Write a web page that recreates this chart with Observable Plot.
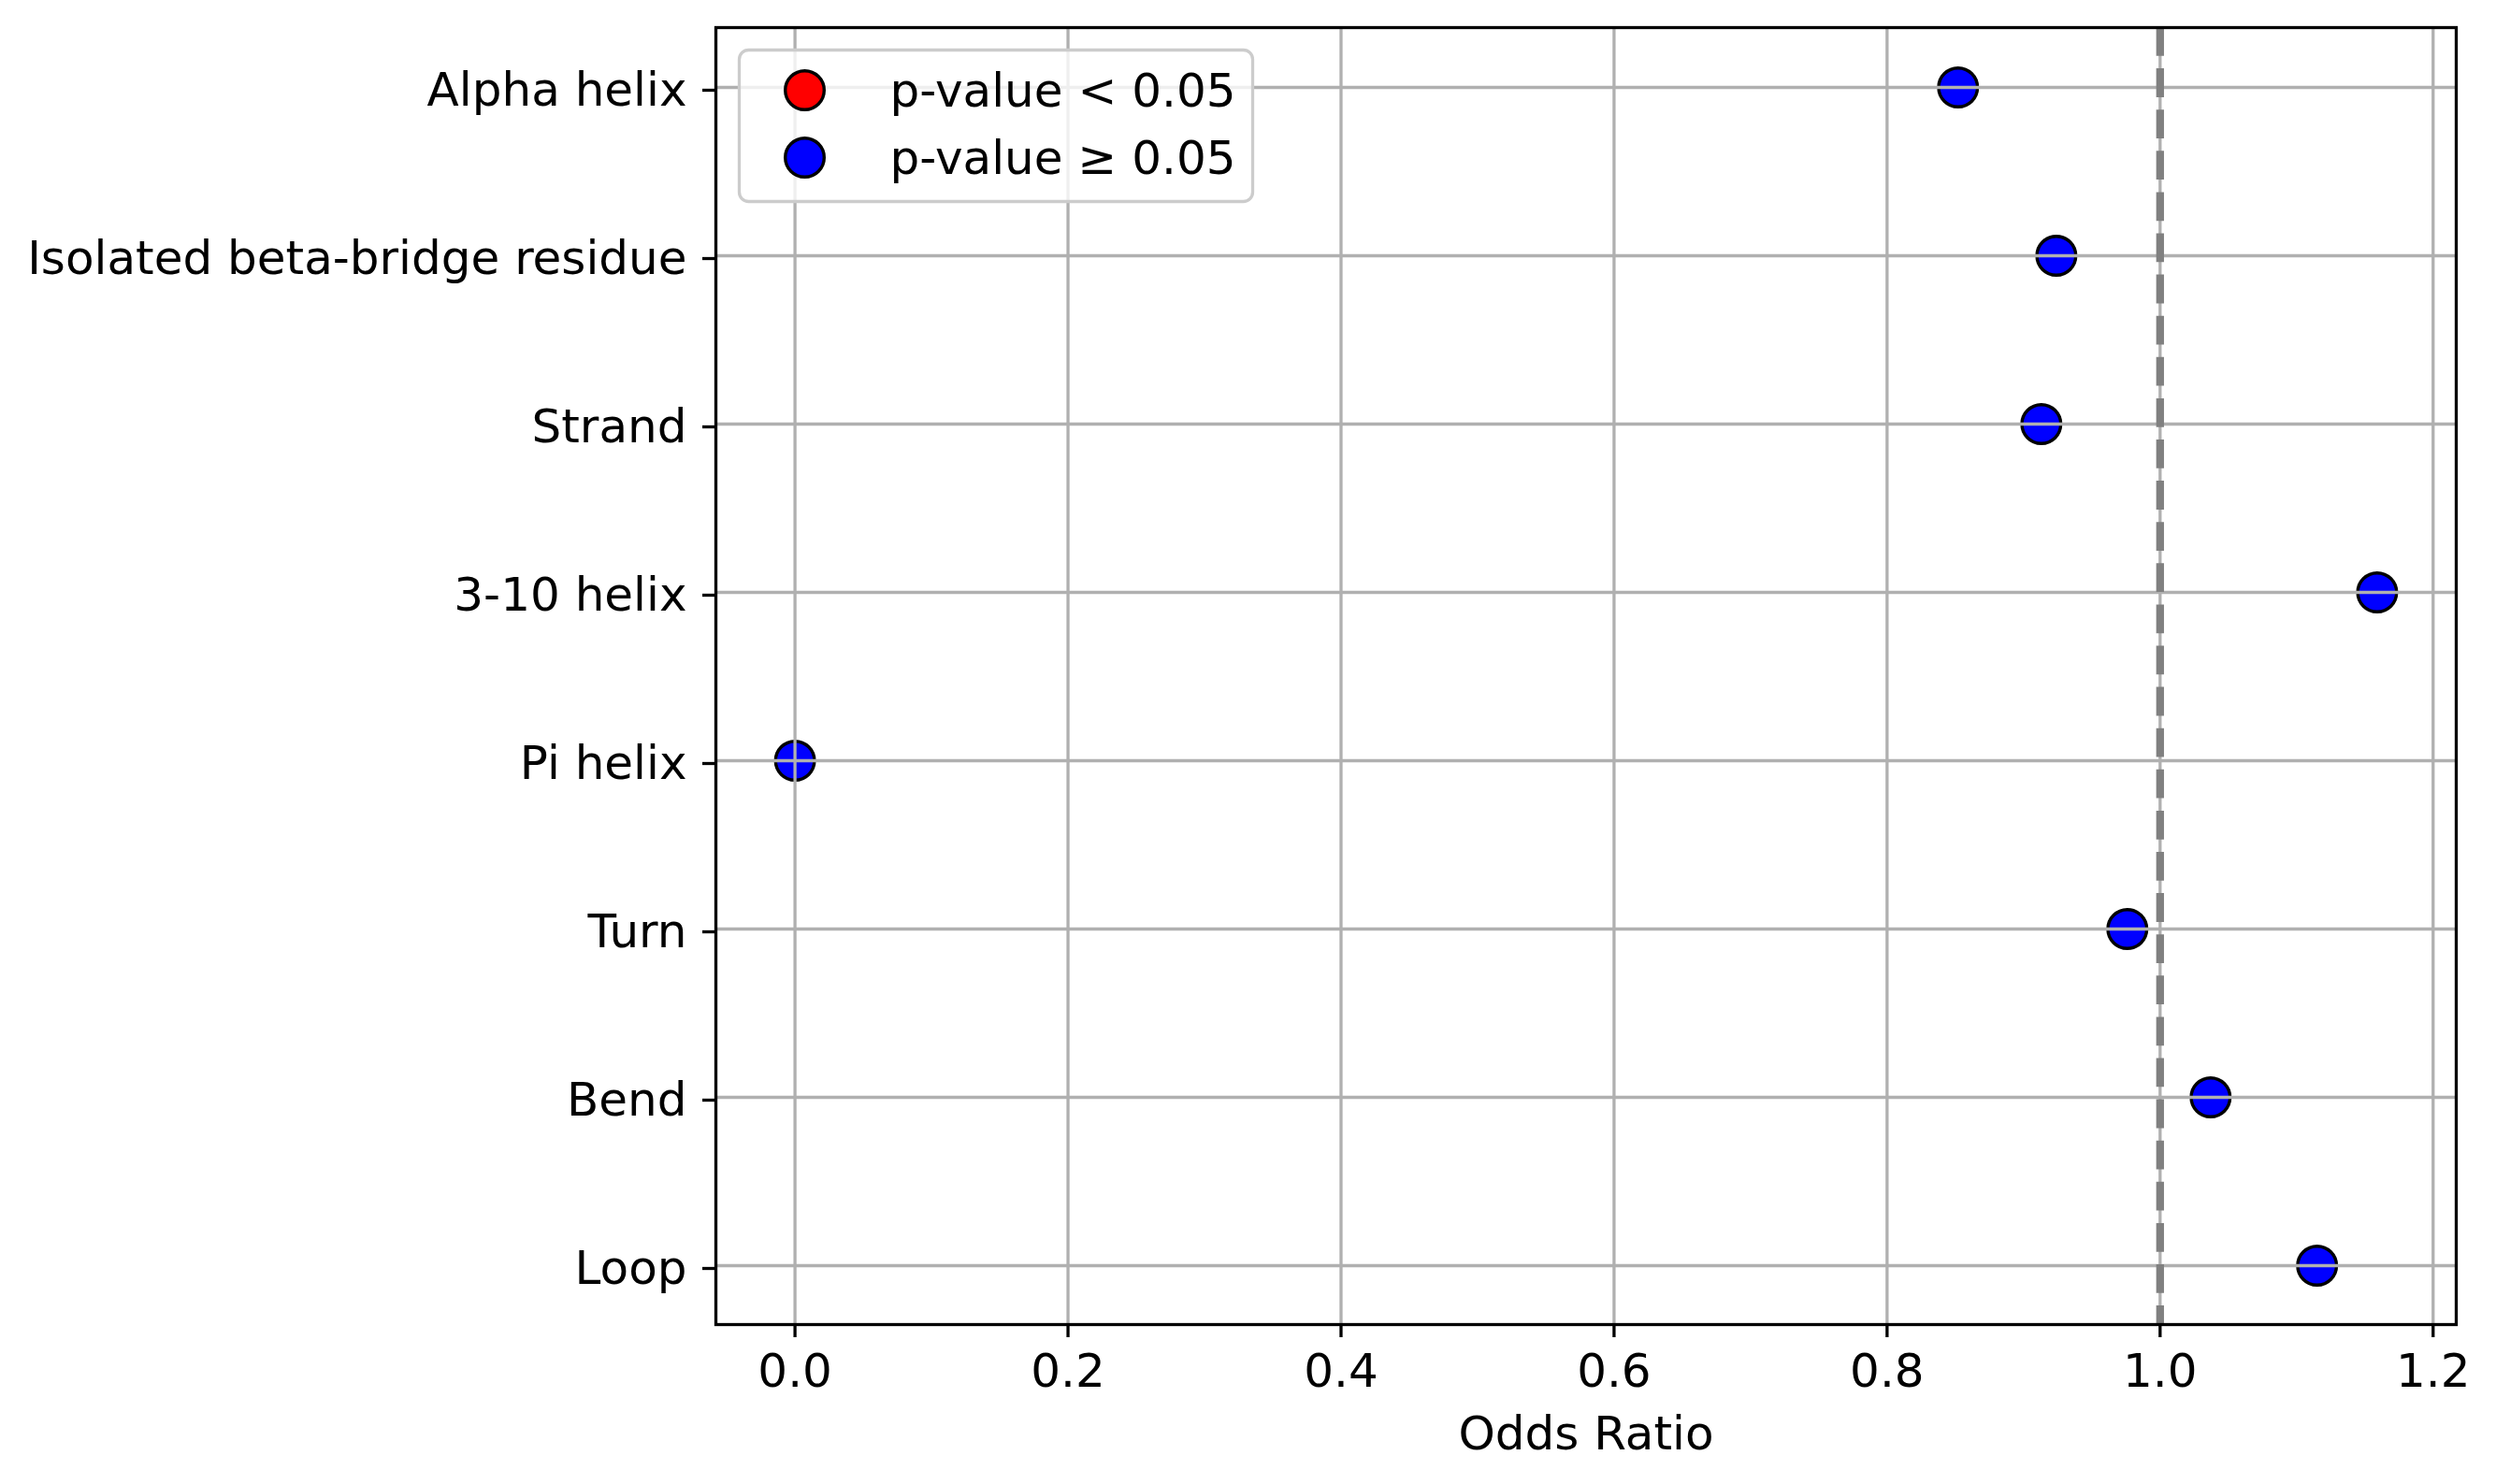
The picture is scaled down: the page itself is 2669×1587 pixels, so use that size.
<!DOCTYPE html>
<html>
<head>
<meta charset="utf-8">
<script src="https://cdn.jsdelivr.net/npm/d3@7"></script>
<script src="https://cdn.jsdelivr.net/npm/@observablehq/plot@0.6"></script>
<style>
  html, body { margin: 0; padding: 0; background: white; }
  #chart { width: 2669px; height: 1587px; }
</style>
</head>
<body>
<div id="chart"></div>
<script>
const categories = ["Alpha helix", "Isolated beta-bridge residue", "Strand", "3-10 helix", "Pi helix", "Turn", "Bend", "Loop"];
const oddsRatios = [0.852, 0.924, 0.913, 1.159, 0.0, 0.976, 1.037, 1.115];
const significant = [false, false, false, false, false, false, false, false];
const xTicks = [0.0, 0.2, 0.4, 0.6, 0.8, 1.0, 1.2];
const referenceValue = [1.0];
const legendLabels = ["p-value < 0.05", "p-value \u2265 0.05"];
const legendColors = ["red", "blue"];
const xLabel = "Odds Ratio";

const data = categories.map((c, i) => ({category: c, or: oddsRatios[i], sig: significant[i]}));

const lo = d3.min(oddsRatios), hi = d3.max(oddsRatios);
const pad = (hi - lo) * 0.05;

const FONT = "DejaVu Sans";
const LW = 3.3;

const legendRows = legendLabels.map((label, i) => ({label, color: legendColors[i], i}));

const chart = Plot.plot({
  width: 2669,
  height: 1587,
  marginLeft: 765,
  marginRight: 43,
  marginTop: 29,
  marginBottom: 171,
  style: {fontFamily: FONT, fontSize: "50px", background: "white", color: "black"},
  x: {domain: [lo - pad, hi + pad], ticks: xTicks},
  y: {type: "point", domain: categories, padding: 0.35},
  marks: [
    Plot.dot(data, {
      x: "or", y: "category", r: 20.8,
      fill: d => d.sig ? legendColors[0] : legendColors[1],
      stroke: "black", strokeWidth: 3.4
    }),
    Plot.gridX(xTicks, {stroke: "#b0b0b0", strokeOpacity: 1, strokeWidth: LW}),
    Plot.gridY(categories, {stroke: "#b0b0b0", strokeOpacity: 1, strokeWidth: LW}),
    Plot.ruleX(referenceValue, {stroke: "#808080", strokeWidth: 8.3, strokeDasharray: "30.8,13.3"}),
    Plot.frame({stroke: "black", strokeWidth: LW}),
    Plot.axisX(xTicks, {
      tickSize: 14, tickPadding: 17, strokeWidth: LW,
      tickFormat: d3.format(".1f"), fontSize: 50, label: null
    }),
    Plot.axisY(categories, {
      tickSize: 14, tickPadding: 17, strokeWidth: LW,
      fontSize: 50, label: null, dy: 3
    }),
    Plot.text([xLabel], {
      text: d => d, frameAnchor: "bottom", dy: 133, lineAnchor: "bottom",
      fontSize: 50, fill: "black"
    }),
    // legend (inside the axes, upper left)
    Plot.frame({
      insetLeft: 25, insetRight: 1287, insetTop: 24, insetBottom: 1201,
      rx: 10, fill: "white", fillOpacity: 0.8, stroke: "#cccccc", strokeWidth: LW
    }),
    ...legendRows.map(row => Plot.dot([row], {
      frameAnchor: "top-left", dx: 95, dy: 67 + row.i * 72, r: 20.8,
      fill: row.color, stroke: "black", strokeWidth: 3.4
    })),
    ...legendRows.map(row => Plot.text([row], {
      text: "label", frameAnchor: "top-left", dx: 186, dy: 84 + row.i * 72,
      lineAnchor: "bottom", textAnchor: "start", fontSize: 50, fill: "black"
    }))
  ]
});

document.getElementById("chart").appendChild(chart);
</script>
</body>
</html>
